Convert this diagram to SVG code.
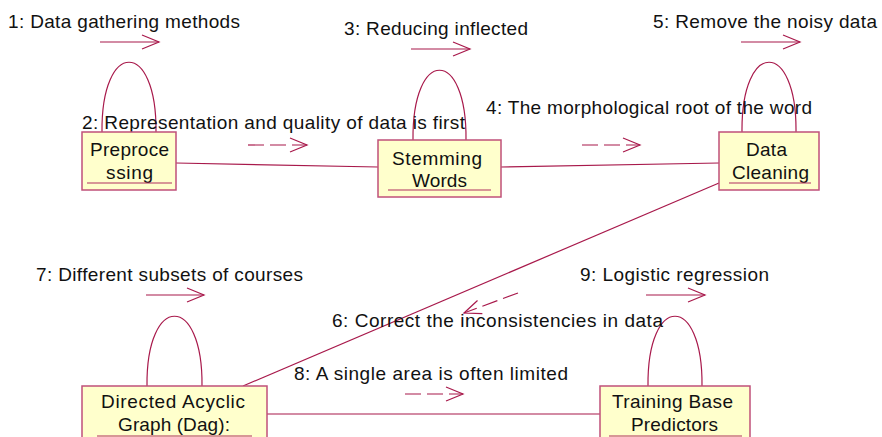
<svg xmlns="http://www.w3.org/2000/svg" width="882" height="437" viewBox="0 0 882 437">
<defs>
<style>
text{font-family:"Liberation Sans",Arial,sans-serif;font-size:19px;fill:#111}
.box{fill:#ffffcc;stroke:#c0507a;stroke-width:1.5}
.ul{stroke:#b03060;stroke-width:1.2;fill:none}
.ln{stroke:#a8194b;stroke-width:1.2;fill:none}
.dash{stroke-dasharray:16 6}
.mid{text-anchor:middle}
</style>
<marker id="open" viewBox="0 0 20 16" refX="18" refY="8" markerWidth="20" markerHeight="16" markerUnits="userSpaceOnUse" orient="auto">
<path d="M1,1 L18,8 L1,15" fill="none" stroke="#a8194b" stroke-width="1.2"/>
</marker>
</defs>
<rect width="882" height="437" fill="#ffffff"/>
<g id="connectors">
<line class="ln" x1="176" y1="163" x2="378" y2="167"/>
<line class="ln" x1="501" y1="167" x2="719" y2="163"/>
<line class="ln" x1="719" y1="183" x2="243" y2="386"/>
<line class="ln" x1="267" y1="414" x2="600" y2="414"/>
<path class="ln" d="M102,132 C101,39 157,39 156,132"/>
<path class="ln" d="M413,140 C412,47 467,47 466,140"/>
<path class="ln" d="M742,132 C741,39 797,39 796,132"/>
<path class="ln" d="M147,386 C146,293 203,293 202,386"/>
<path class="ln" d="M648,386 C647,293 703,293 702,386"/>
<line class="ln" x1="100" y1="42" x2="159" y2="42" marker-end="url(#open)"/>
<line class="ln" x1="411" y1="49" x2="470" y2="49" marker-end="url(#open)"/>
<line class="ln" x1="741" y1="42" x2="800" y2="42" marker-end="url(#open)"/>
<line class="ln" x1="146" y1="295" x2="204" y2="295" marker-end="url(#open)"/>
<line class="ln" x1="646" y1="295" x2="705" y2="295" marker-end="url(#open)"/>
<line class="ln dash" x1="248" y1="145" x2="307" y2="145" marker-end="url(#open)"/>
<line class="ln dash" x1="582" y1="145" x2="640" y2="145" marker-end="url(#open)"/>
<line class="ln dash" x1="405" y1="394" x2="463" y2="394" marker-end="url(#open)"/>
<line class="ln dash" x1="518" y1="293" x2="464" y2="313" marker-end="url(#open)"/>
</g>
<g id="labels">
<text x="8" y="28" textLength="232" lengthAdjust="spacing">1: Data gathering methods</text>
<text x="344" y="35" textLength="184" lengthAdjust="spacing">3: Reducing inflected</text>
<text x="653" y="28" textLength="224" lengthAdjust="spacing">5: Remove the noisy data</text>
<text x="82" y="129" textLength="383" lengthAdjust="spacing">2: Representation and quality of data is first</text>
<text x="486" y="114" textLength="326" lengthAdjust="spacing">4: The morphological root of the word</text>
<text x="36" y="281" textLength="267" lengthAdjust="spacing">7: Different subsets of courses</text>
<text x="332" y="327" textLength="331" lengthAdjust="spacing">6: Correct the inconsistencies in data</text>
<text x="294" y="380" textLength="274" lengthAdjust="spacing">8: A single area is often limited</text>
<text x="580" y="281" textLength="189" lengthAdjust="spacing">9: Logistic regression</text>
</g>
<g id="node-preprocessing">
<rect class="box" x="82" y="132" width="94" height="58"/>
<text class="mid" x="129.5" y="156" textLength="79" lengthAdjust="spacing">Preproce</text>
<text class="mid" x="129.5" y="179" textLength="47" lengthAdjust="spacing">ssing</text>
<line class="ul" x1="87" y1="183" x2="172" y2="183"/>
</g>
<g id="node-stemming">
<rect class="box" x="378" y="140" width="123" height="57"/>
<text class="mid" x="437" y="165" textLength="90" lengthAdjust="spacing">Stemming</text>
<text class="mid" x="439.5" y="187" textLength="55" lengthAdjust="spacing">Words</text>
<line class="ul" x1="388" y1="190" x2="491" y2="190"/>
</g>
<g id="node-cleaning">
<rect class="box" x="719" y="132" width="100" height="58"/>
<text class="mid" x="766.5" y="156" textLength="41" lengthAdjust="spacing">Data</text>
<text class="mid" x="770.5" y="179" textLength="77" lengthAdjust="spacing">Cleaning</text>
<line class="ul" x1="729" y1="183" x2="811" y2="183"/>
</g>
<g id="node-dag">
<rect class="box" x="82" y="386" width="185" height="60"/>
<text class="mid" x="173" y="408" textLength="144" lengthAdjust="spacing">Directed Acyclic</text>
<text class="mid" x="174" y="431" textLength="112" lengthAdjust="spacing">Graph (Dag):</text>
<line class="ul" x1="97" y1="436" x2="252" y2="436"/>
</g>
<g id="node-training">
<rect class="box" x="600" y="386" width="150" height="60"/>
<text class="mid" x="672.5" y="408" textLength="121" lengthAdjust="spacing">Training Base</text>
<text class="mid" x="674.5" y="431" textLength="87" lengthAdjust="spacing">Predictors</text>
<line class="ul" x1="609" y1="436" x2="742" y2="436"/>
</g>
</svg>
